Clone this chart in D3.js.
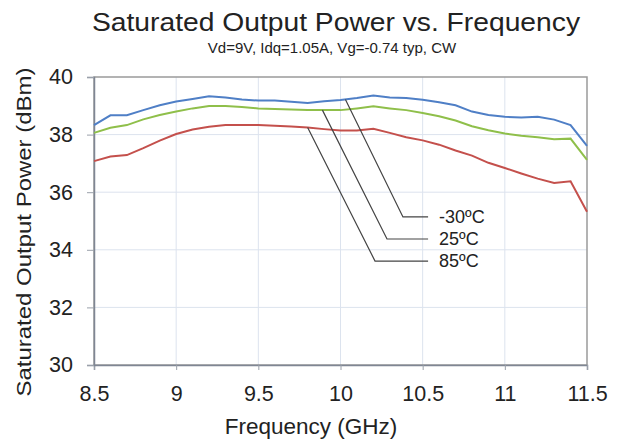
<!DOCTYPE html>
<html>
<head>
<meta charset="utf-8">
<script src="https://cdn.jsdelivr.net/npm/d3@7"></script>
<style>
  body { margin: 0; background: #fff; }
  text { font-family: "Liberation Sans", Arial, sans-serif; fill: #222; }
</style>
</head>
<body>
<div id="chart"></div>
<script>
// frequency points (GHz)
var freq = [8.5, 8.6, 8.7, 8.8, 8.9, 9.0, 9.1, 9.2, 9.3, 9.4, 9.5, 9.6, 9.7, 9.8, 9.9, 10.0,
            10.1, 10.2, 10.3, 10.4, 10.5, 10.6, 10.7, 10.8, 10.9, 11.0, 11.1, 11.2, 11.3, 11.4, 11.5];

// Psat (dBm) per temperature
var pm30 = [38.33, 38.67, 38.67, 38.85, 39.02, 39.15, 39.24, 39.33, 39.29, 39.22, 39.18, 39.18, 39.14, 39.1, 39.16, 39.2,
            39.27, 39.36, 39.29, 39.27, 39.21, 39.12, 39.02, 38.8, 38.68, 38.62, 38.59, 38.62, 38.52, 38.33, 37.61];
var p25  = [38.06, 38.24, 38.33, 38.53, 38.68, 38.8, 38.91, 38.99, 38.99, 38.96, 38.91, 38.89, 38.87, 38.85, 38.85, 38.85,
            38.91, 38.98, 38.91, 38.85, 38.75, 38.64, 38.49, 38.29, 38.15, 38.04, 37.96, 37.91, 37.84, 37.86, 37.12];
var p85  = [37.08, 37.24, 37.29, 37.53, 37.79, 38.02, 38.18, 38.27, 38.33, 38.33, 38.33, 38.31, 38.28, 38.25, 38.19, 38.14,
            38.14, 38.2, 38.06, 37.91, 37.8, 37.65, 37.45, 37.27, 37.02, 36.84, 36.65, 36.47, 36.32, 36.38, 35.32];

var seriesNames = ["-30ºC", "25ºC", "85ºC"];
var seriesColors = ["#4f7fc6", "#8fbf4a", "#c4504c"];
var xTicks = [8.5, 9, 9.5, 10, 10.5, 11, 11.5];
var yTicks = [30, 32, 34, 36, 38, 40];

var width = 622, height = 443;
var margin = {left: 94, right: 35, top: 77, bottom: 78};

var svg = d3.select("#chart").append("svg")
    .attr("width", width)
    .attr("height", height);

var x = d3.scaleLinear().domain([8.5, 11.5]).range([margin.left, width - margin.right]);
var y = d3.scaleLinear().domain([30, 40]).range([height - margin.bottom, margin.top]);

// grid
svg.append("g").selectAll("line.vgrid")
    .data(xTicks.slice(1, -1))
    .enter().append("line")
    .attr("x1", function(d) { return x(d); })
    .attr("x2", function(d) { return x(d); })
    .attr("y1", y(30)).attr("y2", y(40))
    .style("stroke", "#dce3ee").style("stroke-width", 1);

svg.append("g").selectAll("line.hgrid")
    .data(yTicks.slice(1, -1))
    .enter().append("line")
    .attr("x1", x(8.5)).attr("x2", x(11.5))
    .attr("y1", function(d) { return y(d); })
    .attr("y2", function(d) { return y(d); })
    .style("stroke", "#dce3ee").style("stroke-width", 1);

// frame
svg.append("rect")
    .attr("x", x(8.5)).attr("y", y(40))
    .attr("width", x(11.5) - x(8.5)).attr("height", y(30) - y(40))
    .style("fill", "none").style("stroke", "#9a9a9a").style("stroke-width", 1.5);

// axes
var xAxis = svg.append("g")
    .attr("transform", "translate(0," + y(30) + ")")
    .call(d3.axisBottom(x).tickValues(xTicks).tickSize(5).tickPadding(16).tickFormat(d3.format("")));
var yAxis = svg.append("g")
    .attr("transform", "translate(" + x(8.5) + ",0)")
    .call(d3.axisLeft(y).tickValues(yTicks).tickSize(7).tickPadding(14));

[xAxis, yAxis].forEach(function(a) {
  a.select(".domain").style("stroke", "#7f8694").style("stroke-width", 1.5);
  a.selectAll(".tick line").style("stroke", "#9aa0aa");
  a.selectAll(".tick text").style("font-size", "21.5px").style("fill", "#222")
    .style("font-family", "'Liberation Sans', Arial, sans-serif");
});

// lines
var line = d3.line()
    .x(function(d, i) { return x(freq[i]); })
    .y(function(d) { return y(d); });

var series = [pm30, p25, p85];
svg.append("g").selectAll("path.series")
    .data(series)
    .enter().append("path")
    .attr("class", "series")
    .attr("d", line)
    .style("fill", "none")
    .style("stroke", function(d, i) { return seriesColors[i]; })
    .style("stroke-width", 2);

// leader labels: point on curve (GHz), elbow (GHz, dBm)
var leaders = [
  {s: 0, f: 10.03, ex: 10.38, ly: 35.14},
  {s: 1, f: 9.89, ex: 10.283, ly: 34.375},
  {s: 2, f: 9.80, ex: 10.21, ly: 33.61}
];
var leadEnd = 10.533;

leaders.forEach(function(l) {
  var yv = d3.scaleLinear().domain(freq).range(series[l.s])(l.f);
  svg.append("polyline")
    .attr("points", [[x(l.f), y(yv)], [x(l.ex), y(l.ly)], [x(leadEnd), y(l.ly)]].join(" "))
    .style("fill", "none").style("stroke", "#444").style("stroke-width", 1.2);
  svg.append("text")
    .attr("x", x(leadEnd) + 11).attr("y", y(l.ly) + 6)
    .style("font-size", "18px")
    .text(seriesNames[l.s]);
});

// titles
svg.append("text")
    .attr("x", 336).attr("y", 31)
    .attr("text-anchor", "middle")
    .style("font-size", "26px")
    .attr("textLength", 488)
    .attr("lengthAdjust", "spacingAndGlyphs")
    .text("Saturated Output Power vs. Frequency");
svg.append("text")
    .attr("x", 332).attr("y", 53)
    .attr("text-anchor", "middle")
    .style("font-size", "15px")
    .text("Vd=9V, Idq=1.05A, Vg=-0.74 typ, CW");
svg.append("text")
    .attr("x", 311).attr("y", 434)
    .attr("text-anchor", "middle")
    .style("font-size", "22.5px")
    .text("Frequency (GHz)");
svg.append("text")
    .attr("transform", "translate(31," + 232 + ") rotate(-90)")
    .attr("text-anchor", "middle")
    .style("font-size", "20px")
    .attr("textLength", 329)
    .attr("lengthAdjust", "spacingAndGlyphs")
    .text("Saturated Output Power (dBm)");
</script>
</body>
</html>
